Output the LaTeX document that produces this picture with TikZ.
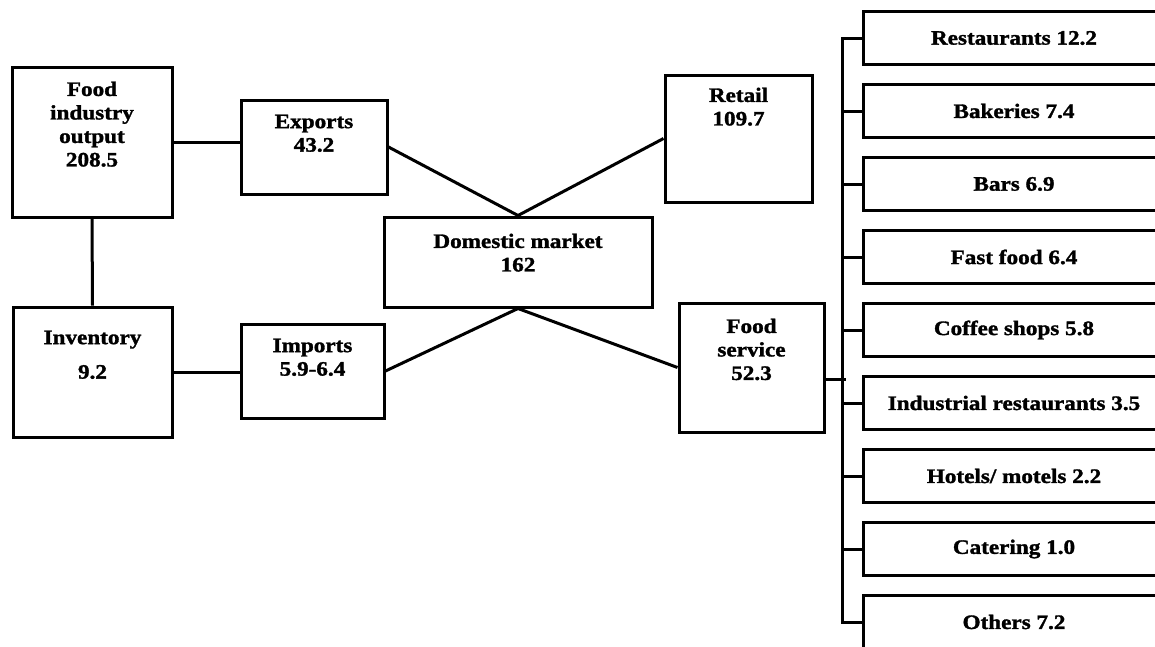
\documentclass[tikz,border=0pt]{standalone}
\usepackage{fontspec}
\setmainfont{Liberation Serif}
\newfontfamily\boxfont{Liberation Serif}[FakeStretch=1.13, BoldFeatures={FakeBold=1.5}]
\usetikzlibrary{positioning}

\begin{document}
\begin{tikzpicture}[x=1pt, y=-1pt,
  box/.style={draw, line width=3pt, inner sep=0pt},
  outlet/.style={box, minimum width=302pt, minimum height=53pt,
                 font=\fontsize{20.5}{23.5}\selectfont\boxfont\bfseries},
  lbl/.style={inner sep=0pt, align=center,
              font=\fontsize{20.5}{23.5}\selectfont\boxfont\bfseries},
  link/.style={line width=3pt},
  node distance=17pt
]
\useasboundingbox (0,0) rectangle (1155,646);

% supply side
\node[box, minimum width=160pt, minimum height=150pt] (out) at (92,142) {};
\node[lbl, below=16pt of out.north] (outtxt) {Food\\industry\\output\\208.5};

\node[box, minimum width=146pt, minimum height=94pt] (exp) at (314,147) {};
\node[lbl, below=16pt of exp.north] (exptxt) {Exports\\43.2};

\node[box, minimum width=159pt, minimum height=130pt] (inv) at (92.5,372) {};
\node[lbl, below=25pt of inv.north] (invtxt) {Inventory\\[11pt]9.2};

\node[box, minimum width=143pt, minimum height=94pt] (imp) at (312.5,371) {};
\node[lbl, below=16pt of imp.north] (imptxt) {Imports\\5.9-6.4};

% domestic market and its outlets
\node[box, minimum width=268pt, minimum height=90pt] (dom) at (518,262) {};
\node[lbl, below=18pt of dom.north] (domtxt) {Domestic market\\162};

\node[box, minimum width=147pt, minimum height=127pt] (ret) at (738.5,138.5) {};
\node[lbl, below=14pt of ret.north] (rettxt) {Retail\\109.7};

\node[box, minimum width=145pt, minimum height=129pt] (fs) at (751.5,367.5) {};
\node[lbl, below=17pt of fs.north] (fstxt) {Food\\service\\52.3};

% food service breakdown
\node[outlet] (rest) at (1014,38) {Restaurants 12.2};
\node[outlet, below=of rest] (bake) {Bakeries 7.4};
\node[outlet, below=of bake] (bars) {Bars 6.9};
\node[outlet, below=of bars] (fast) {Fast food 6.4};
\node[outlet, below=of fast] (coff) {Coffee shops 5.8};
\node[outlet, below=of coff] (indus) {Industrial restaurants 3.5};
\node[outlet, below=of indus] (hotel) {Hotels/ motels 2.2};
\node[outlet, below=of hotel] (cater) {Catering 1.0};
\node[outlet, below=of cater] (other) {Others 7.2};

\draw[link] (out.east) -- (out.east -| exp.west);
\draw[link] (out.south) -- (inv.north);
\draw[link] (inv.east) -- (inv.east -| imp.west);
\draw[link] (exp.east) -- (dom.north);
\draw[link] (ret.west) -- (dom.north);
\draw[link] (dom.south) -- (imp.east);
\draw[link] (dom.south) -- (fs.west);

\draw[link] ([yshift=-12pt]fs.east) -- ++(20,0);
\draw[link] (rest.west) -- ++(-19,0) |- (other.west);
\draw[link] (bake.west) -- ++(-19,0);
\draw[link] (bars.west) -- ++(-19,0);
\draw[link] (fast.west) -- ++(-19,0);
\draw[link] (coff.west) -- ++(-19,0);
\draw[link] (indus.west) -- ++(-19,0);
\draw[link] (hotel.west) -- ++(-19,0);
\draw[link] (cater.west) -- ++(-19,0);

\end{tikzpicture}
\end{document}
